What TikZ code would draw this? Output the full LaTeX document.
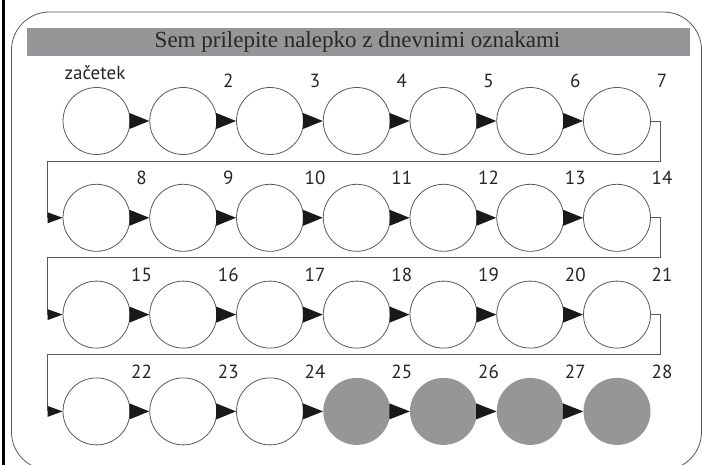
\documentclass[tikz,border=0pt]{standalone}
\usepackage{fontspec}
\setmainfont{Liberation Serif}
\newfontfamily\labelfont{PT Sans}
\usetikzlibrary{calc}
\definecolor{bandgray}{RGB}{150,150,153}
\definecolor{linegray}{RGB}{90,90,90}
\definecolor{titletext}{RGB}{40,40,40}
\tikzset{
  circ/.style={circle, draw=linegray, line width=0.8pt, fill=white, minimum size=67pt, inner sep=0pt},
  fullcirc/.style={circle, fill=bandgray, minimum size=67pt, inner sep=0pt},
  conn/.style={draw=linegray, line width=0.9pt},
  daylabel/.style={font=\labelfont\fontsize{19}{19}\selectfont, text=black!85, anchor=base, inner sep=0pt},
}
\begin{document}
\begin{tikzpicture}[x=1pt,y=-1pt]
\useasboundingbox (0,0) rectangle (702,465);
\fill[white] (0,0) rectangle (702,465);
% outer frame
\draw[black, line width=2.2pt] (3.5,0) -- (3.5,465);
\draw[draw=linegray, line width=0.8pt, rounded corners=38pt] (11.5,12) rectangle (701.5,470);
% title banner
\fill[bandgray] (27,28) rectangle (690,56);
\node[font=\fontsize{23}{23}\selectfont, text=titletext, inner sep=0pt] (title) at (357.5,42) {Sem prilepite nalepko z dnevnimi oznakami};
% circles
\foreach \r in {0,1,2,3}{
  \foreach \k in {1,...,7}{
    \pgfmathsetmacro{\cx}{96.5+86.75*(\k-1)}
    \pgfmathsetmacro{\cy}{121+96.8*\r}
    \pgfmathtruncatemacro{\n}{7*\r+\k}
    \ifnum\n>24
      \node[fullcirc] (c\r-\k) at (\cx,\cy) {};
    \else
      \node[circ] (c\r-\k) at (\cx,\cy) {};
    \fi
    \ifnum\n>1
      \node[daylabel] (l\r-\k) at (\cx+45,\cy-33) {\n};
    \fi
  }
}
\node[daylabel] (start) at (95,80) {začetek};
% arrows between circles
\foreach \r in {0,1,2,3}{
  \foreach \k [evaluate=\k as \kn using int(\k+1)] in {1,...,6}{
    \fill[black!90] ($(c\r-\k.east)+(-1,-8)$) -- ($(c\r-\k.east)+(-1,8)$) -- (c\r-\kn.west) -- cycle;
  }
}
% row connectors
\foreach \r [evaluate=\r as \rn using int(\r+1)] in {0,1,2}{
  \coordinate (a\r) at ($(c\r-7.east)+(10,0)$);
  \coordinate (b\r) at ($(c\r-7.east)+(10,40)$);
  \coordinate (d\r) at (47.5,{121+96.8*\r+40});
  \coordinate (e\r) at (47.5,{121+96.8*\rn});
  \draw[conn] (c\r-7.east) -- (a\r) -- (b\r) -- (d\r) -- (e\r);
  \fill[black!90] ($(e\r)+(0,-5.5)$) -- ($(e\r)+(0,5.5)$) -- (c\rn-1.west) -- cycle;
}
\end{tikzpicture}
\end{document}
